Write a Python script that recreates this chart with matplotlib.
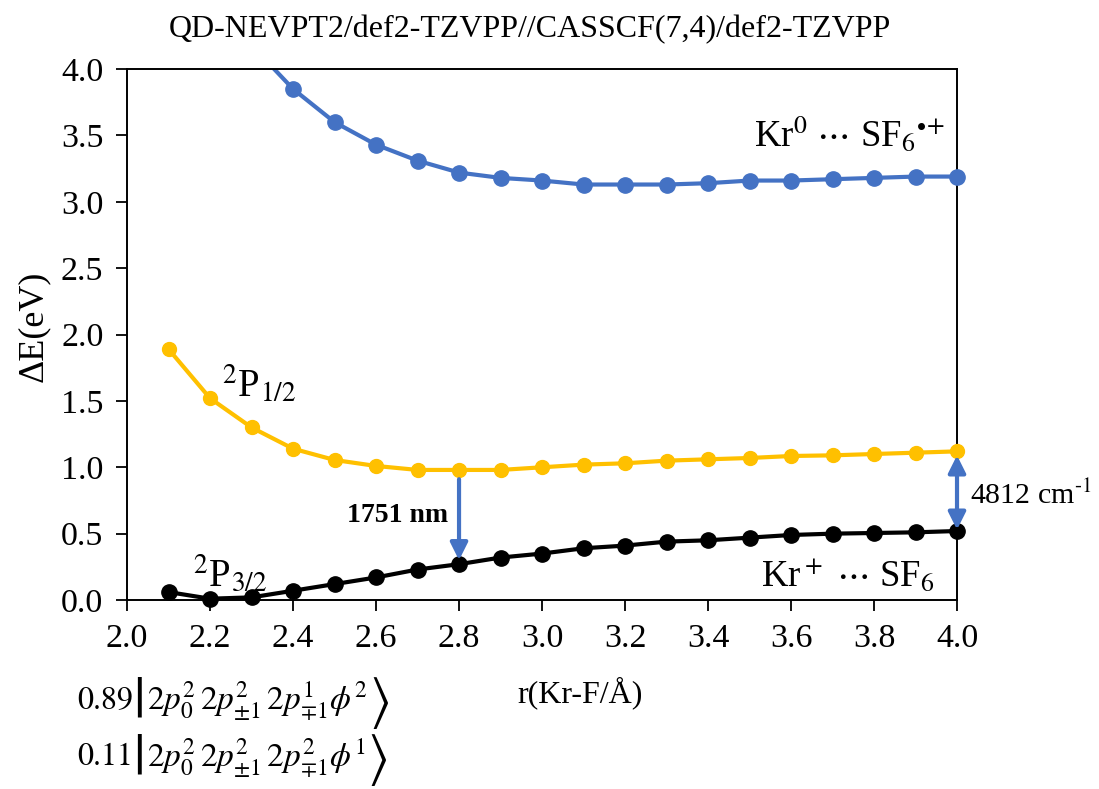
import numpy as np
import matplotlib
matplotlib.use("Agg")
import matplotlib.pyplot as plt

plt.rcParams['font.family'] = ['Liberation Serif', 'DejaVu Serif']
plt.rcParams['mathtext.fontset'] = 'stix'

r = [2.1, 2.2, 2.3, 2.4, 2.5, 2.6, 2.7, 2.8, 2.9, 3.0,
     3.1, 3.2, 3.3, 3.4, 3.5, 3.6, 3.7, 3.8, 3.9, 4.0]
# Kr0 ... SF6*+  (first three lie above the plotted range)
e_blue = [5.10, 4.60, 4.18, 3.85, 3.60, 3.43, 3.31, 3.22, 3.18, 3.16,
          3.13, 3.13, 3.13, 3.14, 3.16, 3.16, 3.17, 3.18, 3.19, 3.19]
# 2P1/2
e_yellow = [1.89, 1.52, 1.30, 1.14, 1.055, 1.01, 0.98, 0.98, 0.98, 1.00,
            1.02, 1.03, 1.05, 1.06, 1.07, 1.085, 1.09, 1.10, 1.11, 1.12]
# 2P3/2  (Kr+ ... SF6)
e_black = [0.06, 0.01, 0.02, 0.07, 0.12, 0.17, 0.23, 0.27, 0.32, 0.35,
           0.39, 0.41, 0.44, 0.45, 0.47, 0.49, 0.50, 0.505, 0.51, 0.52]

x_ticks = [2.0, 2.2, 2.4, 2.6, 2.8, 3.0, 3.2, 3.4, 3.6, 3.8, 4.0]
y_ticks = [0.0, 0.5, 1.0, 1.5, 2.0, 2.5, 3.0, 3.5, 4.0]

weights = ['0.89', '0.11']
configs = [r'$2p_0^2\,2p_{\pm1}^2\,2p_{\mp1}^1\phi^2$',
           r'$2p_0^2\,2p_{\pm1}^2\,2p_{\mp1}^2\phi^1$']

blue = '#4472C4'
yellow = '#FFC000'

fig = plt.figure(figsize=(10.99, 7.89), dpi=100)
ax = fig.add_axes([0.1156, 0.2395, 0.7552, 0.673])

r_arr = np.array(r)
for e, c, ms in [(e_blue, blue, 11), (e_yellow, yellow, 10), (e_black, 'black', 11)]:
    e = np.array(e)
    ax.plot(r_arr, e, '-', color=c, lw=3)
    m = e <= 4.0
    ax.plot(r_arr[m], e[m], 'o', color=c, ms=ms, clip_on=False, zorder=3)

ax.set_xlim(2.0, 4.0)
ax.set_ylim(0.0, 4.0)
ax.set_xticks(x_ticks)
ax.set_yticks(y_ticks)
ax.set_xticklabels([f'{v:.1f}' for v in x_ticks])
ax.set_yticklabels([f'{v:.1f}' for v in y_ticks])
ax.tick_params(labelsize=24.5, direction='out', length=8, width=1.3, pad=9)
for s in ax.spines.values():
    s.set_linewidth(1.4)

fig.text(0.030, 0.587, 'ΔE(eV)', fontsize=26, rotation=90, ha='center', va='center')
fig.text(0.528, 0.122, 'r(Kr-F/Å)', fontsize=23, ha='center', va='center')
fig.text(0.482, 0.962, 'QD-NEVPT2/def2-TZVPP//CASSCF(7,4)/def2-TZVPP',
         fontsize=23, ha='center', va='center')

# state labels
ax.text(3.97, 3.50, r'Kr$^0$ $\cdots$ SF$_6$$^{\bullet\!+}$', fontsize=26.5, ha='right', va='center')
ax.text(3.947, 0.18, r'Kr$^+$ $\cdots$ SF$_6$', fontsize=26.5, ha='right', va='center')
ax.text(2.229, 1.62, r'$^2$P$_{1/2}$', fontsize=28, ha='left', va='center')
ax.text(2.159, 0.19, r'$^2$P$_{3/2}$', fontsize=28, ha='left', va='center')

# transition arrows
ax.annotate('', xy=(2.8, 0.30), xytext=(2.8, 0.91),
            arrowprops=dict(arrowstyle='-|>', color=blue, lw=3,
                            mutation_scale=26, shrinkA=0, shrinkB=0))
ax.text(2.773, 0.64, '1751 nm', fontsize=20, fontweight='bold', ha='right', va='center')
ax.annotate('', xy=(4.0, 0.53), xytext=(4.0, 1.09),
            arrowprops=dict(arrowstyle='<|-|>', color=blue, lw=3,
                            mutation_scale=26, shrinkA=0, shrinkB=0),
            annotation_clip=False)
ax.text(4.031, 0.79, r'4812 cm$^{\text{-1}}$', fontsize=21.5, ha='left', va='center')

# configuration weights |...>
fig.canvas.draw()
renderer = fig.canvas.get_renderer()
for i, (w, cfg) in enumerate(zip(weights, configs)):
    yc = [0.112, 0.040][i]
    fig.text(0.070, yc, w, fontsize=23, ha='left', va='center', family='STIXGeneral')
    fig.text(0.1255, yc - 0.003, r'$|$', fontsize=42, ha='center', va='center')
    t = fig.text(0.134, yc, cfg, fontsize=24, ha='left', va='center')
    bb = t.get_window_extent(renderer)
    fig.text(bb.x1 / fig.bbox.width + 0.001, yc - 0.003, r'$\rangle$', fontsize=40,
             ha='left', va='center')

fig.savefig('out.png', dpi=100)
